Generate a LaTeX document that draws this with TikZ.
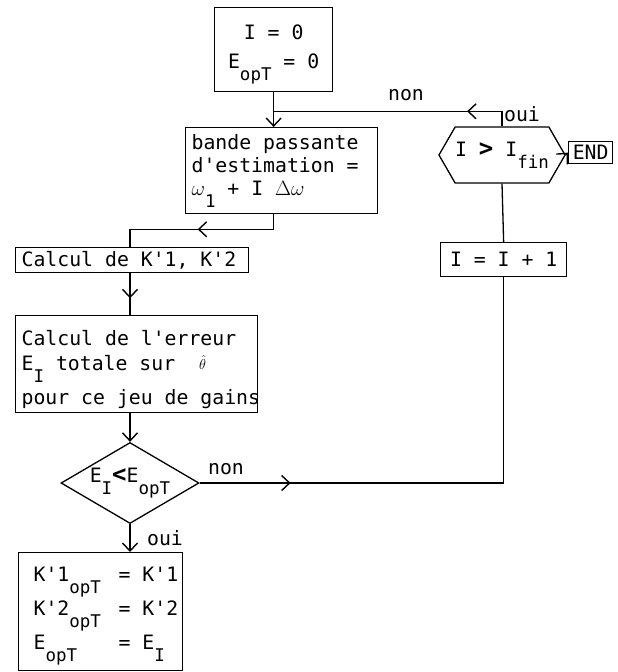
\documentclass[tikz,border=0pt]{standalone}
\usepackage{fontspec}
\setmonofont{DejaVu Sans Mono}
\usetikzlibrary{shapes.geometric,shapes.symbols,calc,arrows.meta,decorations.markings}

\newcommand{\police}[1]{\ttfamily\fontsize{19.8}{#1}\selectfont\lineskiplimit=-40pt}
\newcommand{\plein}{\spaceskip=0.602em\relax\xspaceskip=0.602em\relax}
\newcommand{\indice}[1]{\raisebox{-12pt}{\fontsize{17.5}{17.5}\selectfont #1}}
\newcommand{\chevron}[1]{{\bfseries\fontsize{24}{24}\selectfont #1}}

\tikzset{
  boite/.style={draw,line width=1.3pt,anchor=north west,inner xsep=6pt,inner ysep=2pt},
  fil/.style={line width=1.3pt},
  tete/.style={-{Straight Barb[length=8pt,width=15pt,line width=1.4pt]}},
  repere/.style={postaction={decorate},decoration={markings,
    mark=at position #1 with {\arrow{Straight Barb[length=8pt,width=15pt,line width=1.4pt]}}}},
}

\begin{document}
\begin{tikzpicture}[x=1pt,y=-1pt,font=\police{23}]
  \useasboundingbox[fill=white] (0,0) rectangle (618,672);
  % les boites
  \node[boite,align=center,minimum width=118pt,minimum height=84pt] (init) at (214,7)
    {\plein\rule{0pt}{24pt}I = 0\\[6pt]E\indice{opT} = 0};
  \node[boite,align=left,text width=180pt,minimum height=86pt] (estim) at (185,127)
    {\plein bande passante\\d'estimation =\\$\omega$\indice{1} + I $\Delta\omega$};
  \node[boite,align=left,text width=221pt,minimum height=25pt] (calcK) at (15,247)
    {\plein Calcul de K'1, K'2};
  \node[boite,align=left,text width=230pt,minimum height=97pt,font=\police{25}] (calcE) at (15,315)
    {\plein\rule{0pt}{25pt}Calcul de l'erreur\\E\indice{I} totale sur~~%
     \raisebox{1pt}{\fontsize{15}{15}\selectfont$\hat{\theta}$}\\[9pt]\mbox{pour ce jeu de gains}};
  \node[boite,align=center,minimum width=126pt,minimum height=34pt] (incr) at (440,242)
    {\plein I = I + 1};
  \node[signal,signal to=west and east,signal pointer angle=120,draw,line width=1.3pt,
        minimum width=113pt,minimum height=56pt,inner sep=0pt] (test) at (502,155)
    {\plein I \chevron{>} I\indice{fin}};
  \node[boite,inner sep=1pt,minimum width=44pt,minimum height=22pt] (fin) at (568,141) {END};
  \node[diamond,draw,line width=1.3pt,aspect=1.7,inner sep=0pt,
        minimum width=138pt,minimum height=81pt] (cmp) at (130,483)
    {E\indice{I}\chevron{<}E\indice{opT}};
  \node[boite,align=left,text width=134pt,inner xsep=15pt,minimum height=118pt,font=\police{34}] (res) at (18,552)
    {\plein\rule{0pt}{24pt}\mbox{\makebox[85pt][l]{K'1\indice{opT}}= K'1}\\
     \mbox{\makebox[85pt][l]{K'2\indice{opT}}= K'2}\\
     \mbox{\makebox[85pt][l]{E\indice{opT}}= E\indice{I}}};
  % les etiquettes
  \node (lnon1) at (406,95) {non};
  \node (loui1) at (522,114) {oui};
  \node (lnon2) at (226,469) {non};
  \node (loui2) at (165,538) {oui};
  % les liaisons
  \coordinate (jonc) at ($(init.south)+(0,19)$);
  \draw[fil,tete] (init.south) -- (init.south |- estim.north);
  \draw[fil,repere=50pt] (test.north) |- (jonc);
  \draw[fil,repere=91pt] (estim.south -| init.south) -- ++(0,15) -| (cmp.north |- calcK.north);
  \draw[fil,repere=25pt] (cmp.north |- calcK.south) -- (cmp.north |- calcE.north);
  \draw[fil,tete] (cmp.north |- calcE.south) -- (cmp.north);
  \draw[fil,repere=91pt] (cmp.east) -| (incr.south);
  \draw[fil] (incr.north) -- (test.south);
  \draw[fil,tete] (test.east) -- (fin.west);
  \draw[fil,tete] (cmp.south) -- (cmp.south |- res.north);
\end{tikzpicture}
\end{document}
